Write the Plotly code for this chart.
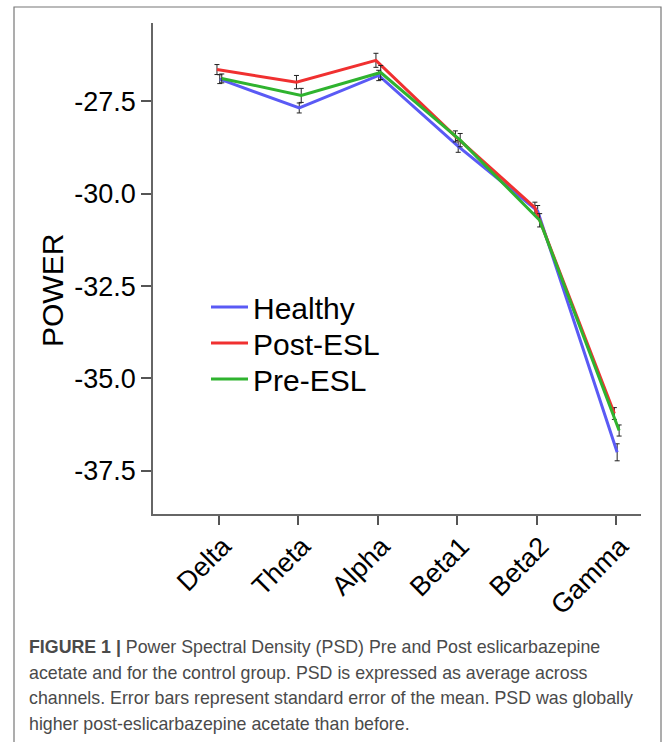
import plotly.graph_objects as go

categories = ["Delta", "Theta", "Alpha", "Beta1", "Beta2", "Gamma"]
y_ticks = [-27.5, -30.0, -32.5, -35.0, -37.5]
y_tick_labels = ["-27.5", "-30.0", "-32.5", "-35.0", "-37.5"]

healthy = [-26.90, -27.68, -26.80, -28.72, -30.47, -37.00]
healthy_err = [0.12, 0.135, 0.14, 0.16, 0.15, 0.23]
post_esl = [-26.64, -26.98, -26.39, -28.45, -30.38, -35.95]
post_esl_err = [0.135, 0.18, 0.19, 0.15, 0.15, 0.16]
pre_esl = [-26.88, -27.34, -26.72, -28.55, -30.72, -36.41]
pre_esl_err = [0.12, 0.19, 0.19, 0.18, 0.18, 0.15]

caption_lines = [
    "<b>FIGURE 1 |</b> Power Spectral Density (PSD) Pre and Post eslicarbazepine",
    "acetate and for the control group. PSD is expressed as average across",
    "channels. Error bars represent standard error of the mean. PSD was globally",
    "higher post-eslicarbazepine acetate than before.",
]

# name, values, errors, colour, dodge offset, legend id, legend row (px)
series = [
    ("Healthy", healthy, healthy_err, "#5a5af5", 0.01, "legend", 307),
    ("Post-ESL", post_esl, post_esl_err, "#f03030", -0.025, "legend2", 343),
    ("Pre-ESL", pre_esl, pre_esl_err, "#2fb32f", 0.035, "legend3", 379),
]

FONT = "Liberation Sans, Arial, Helvetica, sans-serif"

fig = go.Figure()
for name, vals, errs, color, dodge, lg, _ in series:
    fig.add_trace(go.Scatter(
        x=[i + dodge for i in range(len(categories))],
        y=vals,
        mode="lines",
        name=name,
        legend=lg,
        line=dict(color=color, width=3),
        error_y=dict(type="data", array=errs, visible=True,
                     color="#222222", thickness=1, width=2.5),
    ))

W, H = 669, 742
L, R, T, B = 153, 28, 23, 228
pw, ph = W - L - R, H - T - B

def px_x(p):
    return (p - L) / pw

def px_y(p):
    return (H - B - p) / ph

legend_layouts = {}
for _, _, _, _, _, lg, row in series:
    legend_layouts[lg] = dict(
        x=px_x(206), y=px_y(row), xanchor="left", yanchor="middle",
        font=dict(size=30, family=FONT, color="black"),
        bgcolor="rgba(0,0,0,0)", itemwidth=37, borderwidth=0)

fig.update_layout(
    width=W, height=H,
    margin=dict(l=L, r=R, t=T, b=B),
    paper_bgcolor="white", plot_bgcolor="white",
    font=dict(family=FONT, color="black"),
    showlegend=True,
    **legend_layouts,
    xaxis=dict(range=[-0.83, 5.31], tickmode="array",
               tickvals=list(range(len(categories))), ticktext=categories,
               tickangle=-45, ticks="outside", ticklen=9, tickwidth=1.5,
               tickcolor="#555555", showline=True, linecolor="#666666",
               linewidth=1.5, showgrid=False, zeroline=False,
               ticklabelstandoff=-5, ticklabelshift=4,
               tickfont=dict(size=27, family=FONT, color="black")),
    yaxis=dict(range=[-38.67, -25.38], tickmode="array",
               tickvals=y_ticks, ticktext=y_tick_labels,
               ticks="outside", ticklen=10, tickwidth=1.5,
               tickcolor="#555555", showline=True, linecolor="#666666",
               linewidth=1.5, showgrid=False, zeroline=False,
               tickfont=dict(size=27, family=FONT, color="black")),
)

fig.add_annotation(text="POWER", xref="paper", yref="paper",
                   x=px_x(52), y=px_y(291), xanchor="center", yanchor="middle",
                   textangle=-90, showarrow=False,
                   font=dict(size=30, family=FONT, color="black"))

rows_y = [647, 673, 698, 724]
for line, yy in zip(caption_lines, rows_y):
    fig.add_annotation(text=line, xref="paper", yref="paper",
                       x=px_x(27), y=px_y(yy), xanchor="left", yanchor="middle",
                       showarrow=False,
                       font=dict(size=17.8, family=FONT, color="#4a4a4a"))

fig.add_shape(type="rect", xref="paper", yref="paper",
              x0=px_x(14), x1=px_x(661), y0=px_y(7), y1=px_y(800),
              line=dict(color="#777777", width=1.2), fillcolor="rgba(0,0,0,0)",
              layer="below")

fig.write_html("out.html", config={"displayModeBar": False},
               post_script="document.body.style.margin='0';document.body.style.overflow='hidden';")
